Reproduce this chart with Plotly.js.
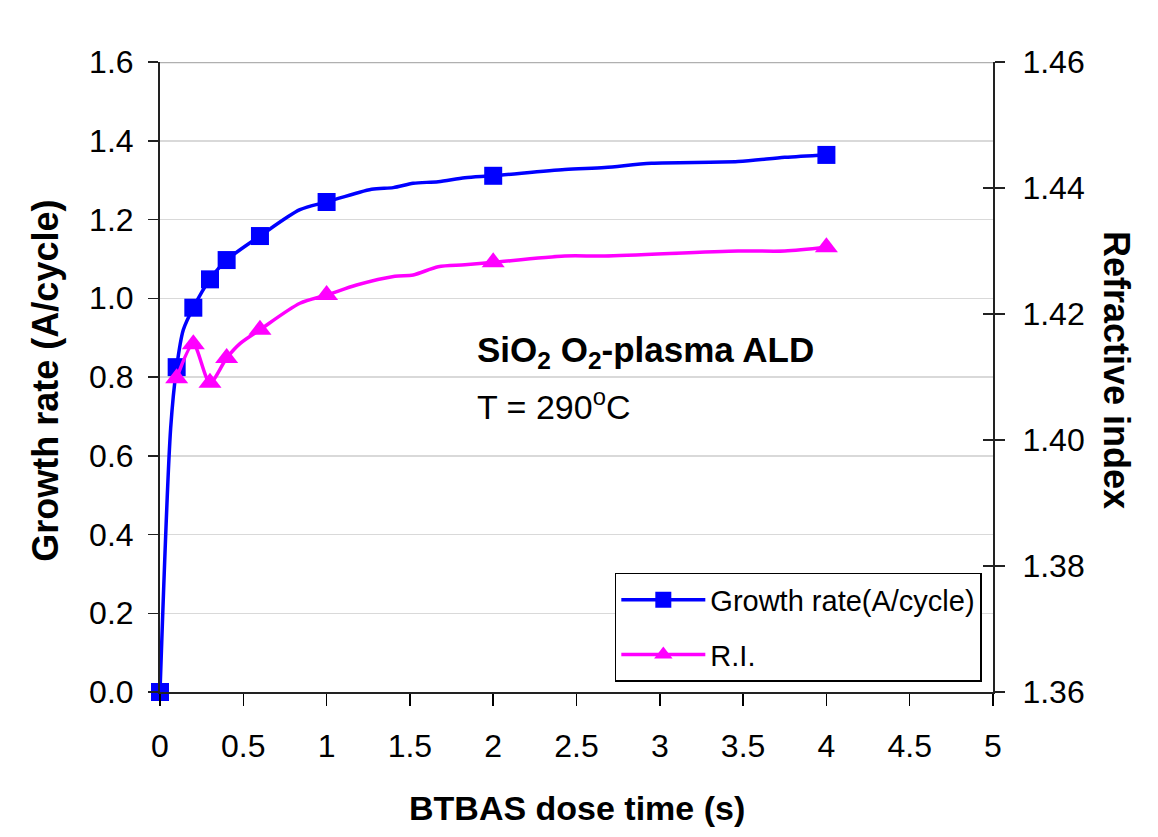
<!DOCTYPE html>
<html>
<head>
<meta charset="utf-8">
<script src="https://cdn.plot.ly/plotly-3.0.1.min.js"></script>
<style>html,body{margin:0;padding:0;background:#fff;}#chart{width:1158px;height:837px;}</style>
</head>
<body>
<div id="chart"></div>
<script>
// Growth rate curve (A/cycle) vs BTBAS dose time (s)
var growthCurveX = [0, 0.064, 0.1, 0.14, 0.2, 0.3, 0.4, 0.6, 0.84, 1, 1.27, 1.4, 1.52, 1.67, 1.83, 2, 2.43, 2.67, 2.95, 3.47, 3.75, 4];
var growthCurveY = [0, 0.67, 0.825, 0.92, 0.976, 1.048, 1.097, 1.158, 1.225, 1.2445, 1.277, 1.281, 1.292, 1.296, 1.306, 1.311, 1.327, 1.332, 1.343, 1.347, 1.358, 1.364];
var growthMarkerX = [0, 0.1, 0.2, 0.3, 0.4, 0.6, 1, 2, 4];

// Refractive index curve
var riCurveX = [0.1, 0.2, 0.3, 0.4, 0.48, 0.6, 0.84, 1, 1.18, 1.41, 1.52, 1.67, 1.83, 2, 2.43, 2.67, 3.47, 3.75, 4];
var riCurveY = [1.4098, 1.4152, 1.4091, 1.4130, 1.4153, 1.4175, 1.4217, 1.4230, 1.4246, 1.4260, 1.4262, 1.4275, 1.4278, 1.4282, 1.4292, 1.4292, 1.4300, 1.4300, 1.4306];
var riMarkerX = [0.1, 0.2, 0.3, 0.4, 0.6, 1, 2, 4];

var xRange = [0, 5];
var yRange = [0, 1.6];
var y2Range = [1.36, 1.46];

var seriesNames = ['Growth rate(A/cycle)', 'R.I.'];
var xTitle = 'BTBAS dose time (s)';
var yTitle = 'Growth rate (A/cycle)';
var y2Title = 'Refractive index';
var noteLine1 = '<b>SiO<sub>2</sub> O<sub>2</sub>-plasma ALD</b>';
var noteLine2 = 'T = 290<sup>o</sup>C';

var FONT = 'Liberation Sans, Arial, Helvetica, sans-serif';
var BLUE = '#0000ff', MAG = '#ff00ff', CLEAR = 'rgba(0,0,0,0)';

function markerColors(xs, markXs, col) {
  return xs.map(function (x) { return markXs.indexOf(x) >= 0 ? col : CLEAR; });
}

var traces = [
  {
    x: growthCurveX, y: growthCurveY, name: seriesNames[0], type: 'scatter', mode: 'lines+markers',
    line: {color: BLUE, width: 3.5, shape: 'spline', smoothing: 0.8},
    marker: {symbol: 'square', size: 18, color: markerColors(growthCurveX, growthMarkerX, BLUE), line: {width: 0}},
    legendgroup: 'g1', xaxis: 'x', yaxis: 'y', cliponaxis: false, hoverinfo: 'skip'
  },
  {
    x: riCurveX, y: riCurveY, name: seriesNames[1], type: 'scatter', mode: 'lines+markers',
    line: {color: MAG, width: 3.5, shape: 'spline', smoothing: 0.8},
    marker: {symbol: 'triangle-up', size: 20, color: markerColors(riCurveX, riMarkerX, MAG), line: {width: 0}},
    legendgroup: 'g2', xaxis: 'x', yaxis: 'y2', cliponaxis: false, hoverinfo: 'skip'
  },
  {
    // invisible copy so the inner tick axis on the right is drawn
    x: riCurveX, y: riCurveY, type: 'scatter', mode: 'lines', opacity: 0,
    line: {width: 0}, showlegend: false, hoverinfo: 'skip', xaxis: 'x', yaxis: 'y3'
  }
];

var tickFont = {family: FONT, size: 32, color: '#000'};

var layout = {
  width: 1158, height: 837,
  margin: {l: 160, r: 165, t: 62, b: 145, pad: 0},
  paper_bgcolor: '#fff', plot_bgcolor: '#fff',
  showlegend: true,
  font: {family: FONT, color: '#000'},
  xaxis: {
    range: xRange, tick0: 0, dtick: 0.5, fixedrange: true,
    ticks: 'outside', ticklen: 12, tickwidth: 1.5, tickcolor: '#000',
    showline: true, linecolor: '#222', linewidth: 2,
    showgrid: false, zeroline: false, tickfont: tickFont, ticklabelstandoff: 13
  },
  yaxis: {
    range: yRange, tick0: 0, dtick: 0.2, tickformat: '.1f', fixedrange: true,
    ticks: 'outside', ticklen: 10, tickwidth: 1.5, tickcolor: '#222',
    showline: true, linecolor: '#222', linewidth: 2,
    showgrid: true, gridcolor: '#d9d9d9', gridwidth: 1.5, zeroline: false,
    tickfont: tickFont, ticklabelstandoff: 8
  },
  yaxis2: {
    overlaying: 'y', side: 'right', anchor: 'x',
    range: y2Range, tick0: 1.36, dtick: 0.02, tickformat: '.2f', fixedrange: true,
    ticks: 'outside', ticklen: 10, tickwidth: 1.5, tickcolor: '#222',
    showline: true, linecolor: '#222', linewidth: 2,
    showgrid: false, zeroline: false, tickfont: tickFont, ticklabelstandoff: 11
  },
  yaxis3: {
    overlaying: 'y', side: 'right', anchor: 'x',
    range: y2Range, tick0: 1.36, dtick: 0.02, fixedrange: true,
    ticks: 'inside', ticklen: 10, tickwidth: 1.5, tickcolor: '#222',
    showline: false, showgrid: false, zeroline: false, showticklabels: false
  },
  legend: {
    x: 0.546, y: 0.016, xanchor: 'left', yanchor: 'bottom',
    bgcolor: '#fff', bordercolor: '#000', borderwidth: 1.5,
    font: {family: FONT, size: 29, color: '#000'},
    traceorder: 'grouped', tracegroupgap: 14, itemwidth: 84
  },
  shapes: [
    {type: 'line', xref: 'paper', yref: 'y', x0: 0, x1: 1, y0: yRange[1], y1: yRange[1],
     line: {color: '#b0b0b0', width: 2.5}, layer: 'above'}
  ],
  annotations: [
    {text: '<b>' + xTitle + '</b>', xref: 'paper', yref: 'paper', x: 0.5, y: -0.184,
     xanchor: 'center', yanchor: 'middle', showarrow: false, font: {family: FONT, size: 34, color: '#000'}},
    {text: '<b>' + yTitle + '</b>', xref: 'paper', yref: 'paper', x: -0.137, y: 0.494,
     xanchor: 'center', yanchor: 'middle', textangle: -90, showarrow: false, font: {family: FONT, size: 36, color: '#000'}},
    {text: '<b>' + y2Title + '</b>', xref: 'paper', yref: 'paper', x: 1.149, y: 0.511,
     xanchor: 'center', yanchor: 'middle', textangle: 90, showarrow: false, font: {family: FONT, size: 36, color: '#000'}},
    {text: noteLine1, xref: 'paper', yref: 'paper', x: 0.378, y: 0.54,
     xanchor: 'left', yanchor: 'middle', showarrow: false, font: {family: FONT, size: 35, color: '#000'}},
    {text: noteLine2, xref: 'paper', yref: 'paper', x: 0.378, y: 0.456,
     xanchor: 'left', yanchor: 'middle', showarrow: false, font: {family: FONT, size: 34, color: '#000'}}
  ]
};

Plotly.newPlot('chart', traces, layout, {displayModeBar: false, staticPlot: true});
</script>
</body>
</html>
